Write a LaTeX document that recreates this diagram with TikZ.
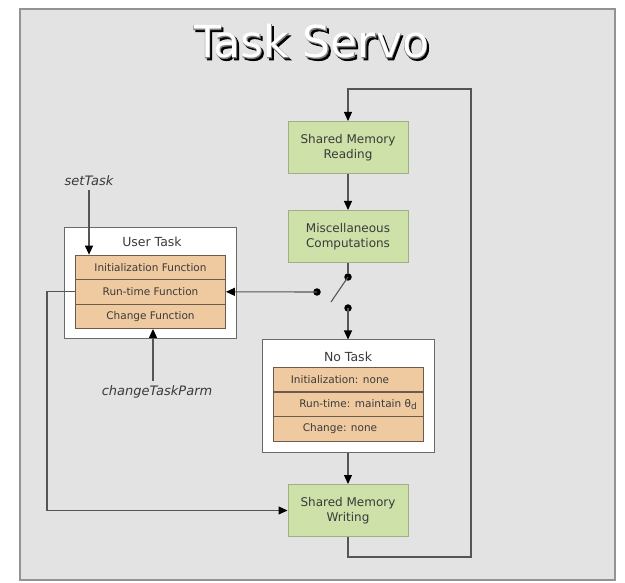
\documentclass[tikz,border=0pt]{standalone}
\usepackage{fontspec}
\setmainfont{DejaVu Sans}
\newfontfamily\titleoutline[FakeBold=2]{DejaVu Sans}
\usetikzlibrary{arrows.meta}

\definecolor{panel}{HTML}{E3E3E3}
\definecolor{panelline}{HTML}{939393}
\definecolor{greenfill}{HTML}{CDE1A9}
\definecolor{greenline}{HTML}{9FB089}
\definecolor{rowfill}{HTML}{EFC9A0}
\definecolor{rowline}{HTML}{6E5A48}
\definecolor{ink}{HTML}{3A3A3A}
\definecolor{wirec}{HTML}{555555}
\definecolor{boxline}{HTML}{6A6A6A}

\begin{document}
\begin{tikzpicture}[x=1pt,y=-1pt,
  titletext/.style={anchor=base, inner sep=0pt, font=\fontsize{44}{50}\selectfont},
  stepbox/.style={draw=greenline, fill=greenfill, line width=1pt,
    minimum width=120pt, minimum height=52pt, inner sep=0pt, align=center,
    text=ink, font=\fontsize{12}{15.5}\selectfont},
  taskbox/.style={draw=boxline, fill=white, line width=1pt, inner sep=0pt},
  tasktitle/.style={text=ink, inner sep=0pt, font=\fontsize{12.5}{14}\selectfont},
  row/.style={draw=rowline, fill=rowfill, line width=0.8pt, inner sep=0pt,
    minimum width=150pt, minimum height=24.5pt},
  rowtext/.style={text=ink, inner sep=0pt, font=\fontsize{10.5}{12}\selectfont},
  callname/.style={text=ink, inner sep=0pt, font=\itshape\fontsize{13}{15}\selectfont},
  wire/.style={draw=wirec, line width=1.1pt},
  arr/.style={wire, -{Triangle[width=8pt,length=9pt,black]}},
  dot/.style={circle, fill=black, inner sep=0pt, minimum size=7.5pt},
  ]
\useasboundingbox (0,0) rectangle (625,583);

% background panel
\draw[draw=panelline, fill=panel, line width=2pt] (20,9) rectangle (615,580);

% title: dark drop shadow, grey outline, white face
\node[titletext, text=black, font=\titleoutline\fontsize{44}{50}\selectfont] (titleshadow) at (313.5,60) {Task Servo};
\node[titletext, text=black!50, font=\titleoutline\fontsize{44}{50}\selectfont] (titleedge) at (311.5,58) {Task Servo};
\node[titletext, text=white] (title) at (311.5,58) {Task Servo};

% main loop boxes
\node[stepbox] (read) at (348,147.5) {Shared Memory\\Reading};
\node[stepbox] (misc) at (348,236.5) {Miscellaneous\\Computations};
\node[stepbox] (write) at (348,510.5) {Shared Memory\\Writing};

% user task
\node[taskbox, minimum width=172pt, minimum height=111pt] (user) at (150,283.5) {};
\node[tasktitle] (usertitle) at (152,242) {User Task};
\node[row] (uinit) at (150.5,267.3) {};
\node[row] (urun) at (150.5,291.8) {};
\node[row] (uchange) at (150.5,316.3) {};
\node[rowtext] at (uinit) {Initialization Function};
\node[rowtext] at (urun) {Run-time Function};
\node[rowtext] at (uchange) {Change Function};

% no task
\node[taskbox, minimum width=172pt, minimum height=112pt] (notask) at (348,396) {};
\node[tasktitle] (notasktitle) at (348,357) {No Task};
\node[row] (ninit) at (348,379.5) {};
\node[row] (nrun) at (348,404.3) {};
\node[row] (nchange) at (348,429) {};
\node[rowtext] (ninittext) at (340,379.5) {Initialization: none};
\node[rowtext] (nruntext) at (358,404.3) {Run-time: maintain θ\raisebox{-2.5pt}{\fontsize{9}{9}\selectfont d}};
\node[rowtext] (nchangetext) at (340,429) {Change: none};

% external calls
\node[callname] (settask) at (89,181) {setTask};
\node[callname] (ctparm) at (157,392) {changeTaskParm};
\coordinate (setfoot) at (89,190);
\coordinate (ctphead) at (153,381);
\draw[arr] (setfoot) -- (setfoot |- uinit.north);
\draw[arr] (ctphead) -- (ctphead |- uchange.south);

% switch
\node[dot] (swtop) at (348,277) {};
\node[dot] (swleft) at (317,292) {};
\node[dot] (swbot) at (348,308) {};
\coordinate (lever) at (331,302);
\draw[wire] (misc.south) -- (swtop);
\draw[wire] (swtop.center) -- (lever);
\draw[arr] (swleft.center) -- (urun.east);
\draw[arr] (swbot.center) -- (notask.north);

% flow
\draw[arr] (read.south) -- (misc.north);
\draw[arr] (notask.south) -- (write.north);
\coordinate (loopbr) at (471,557);
\coordinate (looptr) at (471,89);
\draw[arr] (write.south) |- (loopbr) -- (looptr) -| (read.north);
\coordinate (lcorner) at (47,510.5);
\draw[arr] (urun.west) -| (lcorner) -- (write.west);
\end{tikzpicture}
\end{document}
